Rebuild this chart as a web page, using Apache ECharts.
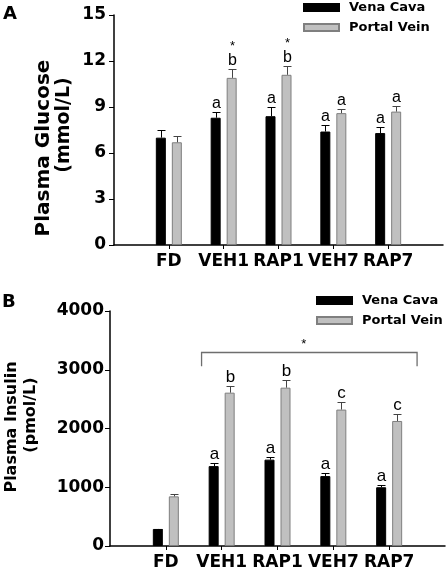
<!DOCTYPE html>
<html><head><meta charset="utf-8">
<script src="https://cdn.jsdelivr.net/npm/echarts@6/dist/echarts.min.js"></script>
<style>html,body{margin:0;padding:0;background:#fff}#c{width:448px;height:571px}</style>
</head><body><div id="c"></div>
<script>
// ---------- data ----------
const categories = ['FD', 'VEH1', 'RAP1', 'VEH7', 'RAP7'];
const seriesNames = ['Vena Cava', 'Portal Vein'];

const glucoseVena = [7.0, 8.3, 8.4, 7.4, 7.3];
const glucoseVenaErr = [0.5, 0.4, 0.6, 0.4, 0.4];
const glucosePortal = [6.7, 10.9, 11.1, 8.6, 8.7];
const glucosePortalErr = [0.4, 0.6, 0.6, 0.3, 0.35];
const glucoseVenaLetters = ['', 'a', 'a', 'a', 'a'];
const glucosePortalLetters = ['', 'b', 'b', 'a', 'a'];
const glucosePortalStars = ['', '*', '*', '', ''];
const glucoseTicks = [0, 3, 6, 9, 12, 15];

const insulinVena = [290, 1360, 1470, 1190, 1000];
const insulinVenaErr = [5, 55, 45, 45, 40];
const insulinPortal = [845, 2610, 2695, 2322, 2128];
const insulinPortalErr = [35, 113, 136, 130, 113];
const insulinVenaLetters = ['', 'a', 'a', 'a', 'a'];
const insulinPortalLetters = ['', 'b', 'b', 'c', 'c'];
const insulinTicks = [0, 1000, 2000, 3000, 4000];
// bracket spanning VEH1..RAP7 with significance star
const insulinBracket = { from: 1.64, to: 5.5, level: 3300, drop: 3060, starAt: 3.47, mark: '*' };

// ---------- chart ----------
const chart = echarts.init(document.getElementById('c'), null, { renderer: 'canvas' });
const FONT = 'DejaVu Sans';
const LFONT = 'Liberation Sans';
const BAR_W = 10;
const BAR_GAP = 0.6;
const OFF = BAR_W * (1 + BAR_GAP) / 2;
const positions = categories.map((c, i) => i + 1);

function pts(vals) { return vals.map((v, i) => [positions[i], v]); }

function errSeries(xi, vals, errs, letters, stars, sign, color, fontSize) {
  return {
    type: 'custom', xAxisIndex: xi, yAxisIndex: xi, silent: true, z: 5,
    data: vals.map((v, i) => [positions[i], v, v + errs[i]]),
    encode: { x: 0, y: [1, 2] },
    renderItem(params, api) {
      const i = params.dataIndex;
      const base = api.coord([api.value(0), api.value(1)]);
      const top = api.coord([api.value(0), api.value(2)]);
      const x = Math.round(base[0] + sign * OFF) + 0.5;
      const ty = Math.round(top[1]) + 0.5;
      const children = [
        { type: 'line', shape: { x1: x, y1: base[1], x2: x, y2: ty }, style: { stroke: color, lineWidth: 1 } },
        { type: 'line', shape: { x1: x - 4, y1: ty, x2: x + 4, y2: ty }, style: { stroke: color, lineWidth: 1 } }
      ];
      if (letters[i]) children.push({ type: 'text', x: x, y: ty - 1,
        style: { text: letters[i], font: 'normal ' + fontSize + 'px "' + LFONT + '"', textAlign: 'center', textVerticalAlign: 'bottom', fill: '#000' } });
      if (stars && stars[i]) children.push({ type: 'text', x: x, y: ty - 23,
        style: { text: stars[i], font: 'normal 13px "' + LFONT + '"', textAlign: 'center', textVerticalAlign: 'middle', fill: '#000' } });
      return { type: 'group', children };
    }
  };
}

const axisFont = { fontFamily: FONT, fontWeight: 'bold', fontSize: 17, color: '#000' };

function xAxis(gi) {
  return {
    type: 'value', gridIndex: gi, min: 0, max: 6, interval: 1,
    axisLine: { show: true, lineStyle: { color: '#000', width: 1.5 } },
    axisTick: { show: true, customValues: positions, length: 4, lineStyle: { color: '#000', width: 1 } },
    axisLabel: Object.assign({ show: true, customValues: positions, margin: 8,
      formatter: v => categories[Math.round(v) - 1] || '' }, axisFont),
    splitLine: { show: false }
  };
}
function yAxis(gi, ticks, margin) {
  return {
    type: 'value', gridIndex: gi, min: ticks[0], max: ticks[ticks.length - 1], interval: ticks[1] - ticks[0],
    axisLine: { show: true, lineStyle: { color: '#000', width: 1.5 } },
    axisTick: { show: true, length: 5, lineStyle: { color: '#000', width: 1 } },
    axisLabel: Object.assign({ margin: margin, formatter: v => String(v) }, axisFont),
    splitLine: { show: false }
  };
}

const blackStyle = { color: '#000', borderColor: '#000', borderWidth: 1 };
const grayStyle = { color: '#c0c0c0', borderColor: '#7f7f7f', borderWidth: 1 };

function legend(left, top) {
  return {
    orient: 'vertical', left: left, top: top, padding: 0, itemWidth: 35, itemHeight: 7, itemGap: 7,
    icon: 'rect', selectedMode: false, data: seriesNames,
    textStyle: { fontFamily: FONT, fontWeight: 'bold', fontSize: 13, color: '#000', padding: [0, 0, 0, 5] }
  };
}

function rotText(text, x, y, size) {
  return { type: 'text', x: x, y: y, rotation: Math.PI / 2,
    style: { text: text, font: 'bold ' + size + 'px "' + FONT + '"', textAlign: 'center', textVerticalAlign: 'middle', fill: '#000' } };
}

const option = {
  animation: false,
  backgroundColor: '#fff',
  grid: [
    { left: 114, top: 15, width: 329, height: 230, outerBoundsMode: 'none', containLabel: false },
    { left: 110, top: 311, width: 335, height: 235, outerBoundsMode: 'none', containLabel: false }
  ],
  xAxis: [xAxis(0), xAxis(1)],
  yAxis: [yAxis(0, glucoseTicks, 8), yAxis(1, insulinTicks, 6)],
  legend: [legend(303, 1), legend(316, 294)],
  graphic: [
    { type: 'text', x: 3, y: 14, style: { text: 'A', font: 'bold 18px "' + FONT + '"', textVerticalAlign: 'middle', fill: '#000' } },
    { type: 'text', x: 2, y: 302, style: { text: 'B', font: 'bold 18px "' + FONT + '"', textVerticalAlign: 'middle', fill: '#000' } },
    rotText('Plasma Glucose', 44, 148, 20),
    rotText('(mmol/L)', 64, 125, 19),
    rotText('Plasma Insulin', 12, 427, 16),
    rotText('(pmol/L)', 31, 415, 16)
  ],
  series: [
    { type: 'bar', name: seriesNames[0], xAxisIndex: 0, yAxisIndex: 0, data: pts(glucoseVena), barWidth: BAR_W, barGap: (BAR_GAP * 100) + '%', itemStyle: blackStyle },
    { type: 'bar', name: seriesNames[1], xAxisIndex: 0, yAxisIndex: 0, data: pts(glucosePortal), barWidth: BAR_W, barGap: (BAR_GAP * 100) + '%', itemStyle: grayStyle },
    { type: 'bar', name: seriesNames[0], xAxisIndex: 1, yAxisIndex: 1, data: pts(insulinVena), barWidth: BAR_W, barGap: (BAR_GAP * 100) + '%', itemStyle: blackStyle },
    { type: 'bar', name: seriesNames[1], xAxisIndex: 1, yAxisIndex: 1, data: pts(insulinPortal), barWidth: BAR_W, barGap: (BAR_GAP * 100) + '%', itemStyle: grayStyle },
    errSeries(0, glucoseVena, glucoseVenaErr, glucoseVenaLetters, null, -1, '#000', 16),
    errSeries(0, glucosePortal, glucosePortalErr, glucosePortalLetters, glucosePortalStars, 1, '#444', 16),
    errSeries(1, insulinVena, insulinVenaErr, insulinVenaLetters, null, -1, '#000', 17),
    errSeries(1, insulinPortal, insulinPortalErr, insulinPortalLetters, null, 1, '#444', 17),
    {
      type: 'custom', xAxisIndex: 1, yAxisIndex: 1, silent: true, z: 5,
      data: [[insulinBracket.from, insulinBracket.level], [insulinBracket.to, insulinBracket.drop]],
      encode: { x: 0, y: 1 },
      renderItem(params, api) {
        if (params.dataIndex !== 0) return null;
        const b = insulinBracket;
        const p1 = api.coord([b.from, b.level]);
        const p2 = api.coord([b.to, b.level]);
        const d = api.coord([b.from, b.drop]);
        const s = api.coord([b.starAt, b.level]);
        const y = Math.round(p1[1]) + 0.5;
        const stroke = { stroke: '#6e6e6e', lineWidth: 1.3, fill: null };
        return { type: 'group', children: [
          { type: 'polyline', shape: { points: [[p1[0], d[1]], [p1[0], y], [p2[0], y], [p2[0], d[1]]] }, style: stroke },
          { type: 'text', x: s[0], y: y - 8, style: { text: b.mark, font: 'normal 13px "' + LFONT + '"', textAlign: 'center', textVerticalAlign: 'middle', fill: '#000' } }
        ] };
      }
    }
  ]
};
chart.setOption(option);
</script>
</body></html>
